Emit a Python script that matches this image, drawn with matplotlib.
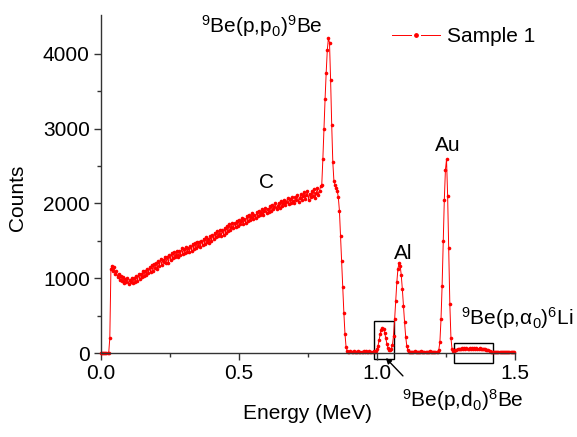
"""
RBS-type spectrum of Sample 1: counts vs energy with peak labels.
"""

import numpy as np
import matplotlib.pyplot as plt
from matplotlib.lines import Line2D
from matplotlib.patches import Rectangle

plt.rcParams['font.family'] = ['Liberation Sans', 'DejaVu Sans']
plt.rcParams['mathtext.fontset'] = 'custom'
plt.rcParams['mathtext.rm'] = 'Liberation Sans'
plt.rcParams['mathtext.it'] = 'Liberation Sans:italic'

step = 0.004     # channel width (MeV)

# carbon region: 0.000 - 0.796 MeV
c_start = 0.0
c_counts = [0, 0, 0, 0, 0, 0, 0, 0, 200, 1120,
            1170, 1100, 1150, 1050, 1090, 1010, 1060, 975, 1030, 960,
            1010, 930, 990, 945, 1000, 920, 975, 950, 1005, 935,
            1000, 950, 1030, 965, 1050, 990, 1060, 1010, 1095, 1030,
            1100, 1040, 1130, 1070, 1145, 1080, 1175, 1100, 1190, 1140,
            1210, 1120, 1230, 1170, 1260, 1180, 1245, 1215, 1290, 1210,
            1290, 1200, 1310, 1245, 1335, 1265, 1350, 1280, 1310, 1370,
            1290, 1360, 1310, 1400, 1330, 1395, 1340, 1420, 1350, 1405,
            1350, 1430, 1370, 1460, 1395, 1470, 1400, 1490, 1425, 1480,
            1420, 1500, 1450, 1530, 1460, 1545, 1480, 1520, 1470, 1560,
            1500, 1580, 1520, 1610, 1545, 1630, 1560, 1595, 1650, 1570,
            1640, 1580, 1670, 1610, 1700, 1625, 1720, 1650, 1690, 1740,
            1670, 1740, 1690, 1770, 1700, 1785, 1720, 1760, 1800, 1730,
            1790, 1740, 1830, 1770, 1850, 1780, 1815, 1870, 1790, 1845,
            1800, 1880, 1830, 1905, 1845, 1870, 1920, 1850, 1895, 1940,
            1870, 1930, 1890, 1960, 1905, 1985, 1920, 1950, 2000, 1925,
            1970, 2010, 1940, 2030, 1965, 2000, 2050, 1980, 2020, 2070,
            1990, 2060, 2010, 2080, 2030, 2000, 2090, 2040, 2110, 2020,
            2070, 2120, 2040, 2100, 2150, 2060, 2110, 2170, 2050, 2130,
            2080, 2160, 2100, 2190, 2070, 2140, 2200, 2110, 2170, 2230]

# 9Be(p,p0)9Be peak
be_start = 0.800
be_counts = [2250, 2600, 3000, 3400, 3750, 4050, 4210, 4150, 3650, 3050,
             2550, 2300, 2250, 2200, 2170, 2080, 1900, 1560, 1230, 880,
             540, 260, 80, 30]

base1_start = 0.896
base1_counts = [20, 15, 25, 18, 12, 22, 16, 20, 14, 24, 18, 15, 20,
                12, 22, 17, 25, 14, 19, 21, 16, 12, 18, 23, 15, 30]

# 9Be(p,d0)8Be and Al peaks
al_start = 1.000
al_counts = [50, 100, 180, 260, 310, 335, 320, 270, 195, 120,
             70, 45, 40, 55, 110, 230, 450, 700, 950, 1130,
             1200, 1170, 1040, 850, 630, 410, 220, 95, 40]

base2_start = 1.116
base2_counts = [18, 14, 20, 12, 16, 22, 15, 13, 19, 17, 14, 21, 16, 12,
                18, 15, 20, 13, 17, 22, 14, 16, 19, 12, 18, 15, 20]

# Au peak
au_start = 1.224
au_counts = [40, 150, 450, 900, 1500, 2050, 2450, 2590, 2100, 1400,
             650, 200, 50, 25, 20]

# 9Be(p,alpha0)6Li bump
alpha_start = 1.284
alpha_counts = [35, 45, 55, 50, 60, 55, 65, 58, 62, 55, 68, 60, 57, 64, 60, 66,
                58, 62, 55, 63, 60, 57, 62, 55, 58, 52, 55, 48, 45, 40, 35, 28]

base3_start = 1.412
base3_counts = [20, 15, 18, 13, 17, 14, 19, 12, 16, 15, 18, 13, 14, 17,
                12, 16, 15, 13, 18, 14, 12, 15]


def segment(start, counts):
    e = start + step * np.arange(len(counts))
    return e, np.array(counts, dtype=float)


def main():
    segs = [(c_start, c_counts), (be_start, be_counts), (base1_start, base1_counts),
            (al_start, al_counts), (base2_start, base2_counts), (au_start, au_counts),
            (alpha_start, alpha_counts), (base3_start, base3_counts)]
    energy = np.concatenate([segment(s, c)[0] for s, c in segs])
    counts = np.concatenate([segment(s, c)[1] for s, c in segs])

    fig = plt.figure(figsize=(5.77, 4.37), dpi=100)
    ax = fig.add_axes([0.175, 0.1922, 0.7175, 0.7735])

    ax.plot(energy, counts, '-o', color='#ff0000', lw=0.7, ms=2.6, mew=0, clip_on=False)

    ax.set_xlim(0, 1.5)
    ax.set_ylim(0, 4520)
    ax.set_xticks([0.0, 0.5, 1.0, 1.5])
    ax.set_xticklabels(['0.0', '0.5', '1.0', '1.5'])
    ax.set_xticks([0.25, 0.75, 1.25], minor=True)
    ax.set_yticks([0, 1000, 2000, 3000, 4000])
    ax.set_yticks([500, 1500, 2500, 3500], minor=True)

    for s in ['top', 'right']:
        ax.spines[s].set_visible(False)
    for s in ['left', 'bottom']:
        ax.spines[s].set_color('#333333')
        ax.spines[s].set_linewidth(1.0)
    ax.tick_params(which='major', direction='out', length=5, width=1,
                   color='#333333', labelsize=15, pad=3)
    ax.tick_params(which='minor', direction='out', length=3, width=1, color='#333333')

    ax.set_xlabel('Energy (MeV)', fontsize=15)
    ax.set_ylabel('Counts', fontsize=15)
    ax.xaxis.set_label_coords(0.5, -0.150)
    ax.yaxis.set_label_coords(-0.179, 0.46)

    # peak labels
    ax.text(0.583, 4373, r'$^9$Be(p,p$_0$)$^9$Be', fontsize=15, ha='center', va='center')
    ax.text(0.601, 2280, 'C', fontsize=15, ha='center', va='center')
    ax.text(1.094, 1333, 'Al', fontsize=15, ha='center', va='center')
    ax.text(1.257, 2773, 'Au', fontsize=15, ha='center', va='center')
    ax.text(1.507, 467, r'$^9$Be(p,α$_0$)$^6$Li', fontsize=15, ha='center', va='center',
            clip_on=False)
    ax.text(1.312, -627, r'$^9$Be(p,d$_0$)$^8$Be', fontsize=15, ha='center', va='center',
            clip_on=False)

    ax.add_patch(Rectangle((0.989, -80), 0.073, 510, fill=False, ec='black', lw=1,
                           clip_on=False))
    ax.add_patch(Rectangle((1.279, -133), 0.141, 266, fill=False, ec='black', lw=1,
                           clip_on=False))
    ax.annotate('', xy=(1.025, -40), xytext=(1.101, -333), annotation_clip=False,
                arrowprops=dict(arrowstyle='-|>', color='black', lw=1, mutation_scale=8))

    proxy = Line2D([], [], color='#ff0000', lw=0.7, marker='o', ms=5,
                   mfc='#ff0000', mec='white', mew=1.5)
    ax.legend([proxy], ['Sample 1'], loc='center left', bbox_to_anchor=(0.683, 0.935),
              borderaxespad=0, frameon=False, fontsize=15, handlelength=2.3,
              handletextpad=0.34, numpoints=1)

    plt.savefig('out.png', dpi=100)


if __name__ == "__main__":
    main()
